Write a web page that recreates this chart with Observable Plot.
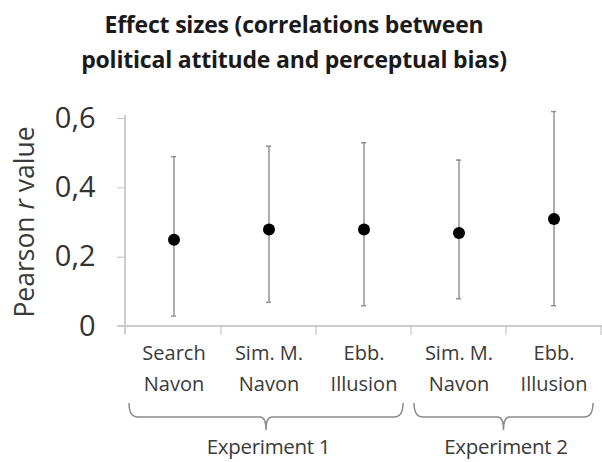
<!DOCTYPE html>
<html>
<head>
<meta charset="utf-8">
<script src="https://cdn.jsdelivr.net/npm/d3@7"></script>
<script src="https://cdn.jsdelivr.net/npm/@observablehq/plot@0.6"></script>
<style>
  html, body { margin: 0; padding: 0; background: #fff; }
  #title { width: 602px; height: 82px; box-sizing: border-box; padding: 7px 14px 0 0;
    font-family: "Open Sans", sans-serif; font-weight: bold; font-size: 23px; line-height: 35px;
    text-align: center; color: #1a1a1a; letter-spacing: -0.2px; }
  #chart svg { display: block; }
</style>
</head>
<body>
<div id="title">Effect sizes (correlations between<br>political attitude and perceptual bias)</div>
<div id="chart"></div>
<script>
const ids = ["e1_search", "e1_sim", "e1_ebb", "e2_sim", "e2_ebb"];
const labels = ["Search\nNavon", "Sim. M.\nNavon", "Ebb.\nIllusion", "Sim. M.\nNavon", "Ebb.\nIllusion"];
const experiments = ["Experiment 1", "Experiment 1", "Experiment 1", "Experiment 2", "Experiment 2"];
const rValues = [0.25, 0.28, 0.28, 0.27, 0.31];
const lower = [0.03, 0.07, 0.06, 0.08, 0.06];
const upper = [0.49, 0.52, 0.53, 0.48, 0.62];
const yTicks = [0, 0.2, 0.4, 0.6];
const yLabelParts = [["Pearson ", false], ["r", true], [" value", false]];

const data = ids.map((id, i) => ({id, label: labels[i], exp: experiments[i], r: rValues[i], lo: lower[i], hi: upper[i]}));
const groups = Array.from(new Set(experiments)).map(name => ({name, members: ids.filter((d, i) => experiments[i] === name)}));

const font = "Open Sans, sans-serif";
const W = 602, H = 380;

function decorations(index, scales, values, dimensions) {
  const {width, height, marginLeft, marginRight, marginTop, marginBottom} = dimensions;
  const x = scales.x, y = scales.y;
  const bw = x.bandwidth ? x.bandwidth() : (width - marginLeft - marginRight) / ids.length;
  const g = d3.create("svg:g");
  const y0 = y(0);
  const yTop = y(d3.max(yTicks));
  g.append("line").attr("x1", marginLeft).attr("x2", marginLeft).attr("y1", yTop - 3).attr("y2", y0 + 8)
    .attr("stroke", "#bdbdbd").attr("stroke-width", 1.5);
  g.append("line").attr("x1", marginLeft - 8).attr("x2", width).attr("y1", y0).attr("y2", y0)
    .attr("stroke", "#cccccc").attr("stroke-width", 2.2);
  ids.forEach((id, i) => {
    const xe = x(id) + bw;
    g.append("line").attr("x1", xe).attr("x2", xe).attr("y1", y0).attr("y2", y0 + 9)
      .attr("stroke", "#c4c4c4").attr("stroke-width", 1.2);
  });
  const top = y0 + 77, yh = y0 + 91, tip = y0 + 104, rr = 9;
  groups.forEach(gr => {
    const first = gr.members[0], last = gr.members[gr.members.length - 1];
    const x1 = x(first) + 3, x2 = x(last) + bw - 8;
    const mid = (x1 + x2) / 2;
    const p = `M${x1},${top} Q${x1},${yh} ${x1 + rr},${yh} H${mid - 6} Q${mid},${yh} ${mid},${tip} Q${mid},${yh} ${mid + 6},${yh} H${x2 - rr} Q${x2},${yh} ${x2},${top}`;
    g.append("path").attr("d", p).attr("fill", "none").attr("stroke", "#8a8a8a").attr("stroke-width", 1.5);
    const cx = d3.mean(gr.members, m => x(m) + bw / 2);
    g.append("text").attr("x", cx).attr("y", y0 + 121).attr("dy", "0.35em").attr("text-anchor", "middle")
      .attr("font-family", font).attr("font-size", 20.5).attr("fill", "#3a3a3a").attr("letter-spacing", "-0.3px").text(gr.name);
  });
  const cy = (y0 + yTop) / 2;
  const t = g.append("text").attr("transform", `translate(25,${cy}) rotate(-90)`).attr("text-anchor", "middle")
    .attr("dy", "0.35em").attr("font-family", font).attr("font-size", 26.5).attr("fill", "#3a3a3a");
  yLabelParts.forEach(([s, it]) => t.append("tspan").attr("font-style", it ? "italic" : "normal").text(s));
  return g.node();
}

const plot = Plot.plot({
  width: W,
  height: H,
  marginLeft: 125,
  marginRight: 0,
  marginTop: 36,
  marginBottom: 136,
  style: {fontFamily: font, background: "white"},
  x: {type: "band", domain: ids, padding: 0, axis: null},
  y: {domain: [0, 0.6], axis: null},
  marks: [
    Plot.axisY({ticks: yTicks, tickFormat: d => d === 0 ? "0" : d3.format(".1f")(d).replace(".", ","),
      tickSize: 8, tickPadding: 22, fontSize: 29, stroke: "#c4c4c4", fill: "#333333", label: null}),
    Plot.ruleX(data, {x: "id", y1: "lo", y2: "hi", stroke: "#8c8c8c", strokeWidth: 1.4}),
    Plot.tickY(data, {x: "id", y: "lo", stroke: "#8c8c8c", strokeWidth: 1.4, insetLeft: 45, insetRight: 45}),
    Plot.tickY(data, {x: "id", y: "hi", stroke: "#8c8c8c", strokeWidth: 1.4, insetLeft: 45, insetRight: 45}),
    Plot.dot(data, {x: "id", y: "r", r: 6, fill: "black", stroke: "none"}),
    Plot.text(data, {x: "id", text: "label", frameAnchor: "bottom", dy: 39, lineAnchor: "middle",
      lineHeight: 1.55, fontSize: 20, fill: "#3a3a3a"}),
    decorations
  ]
});
document.getElementById("chart").appendChild(plot);
</script>
</body>
</html>
